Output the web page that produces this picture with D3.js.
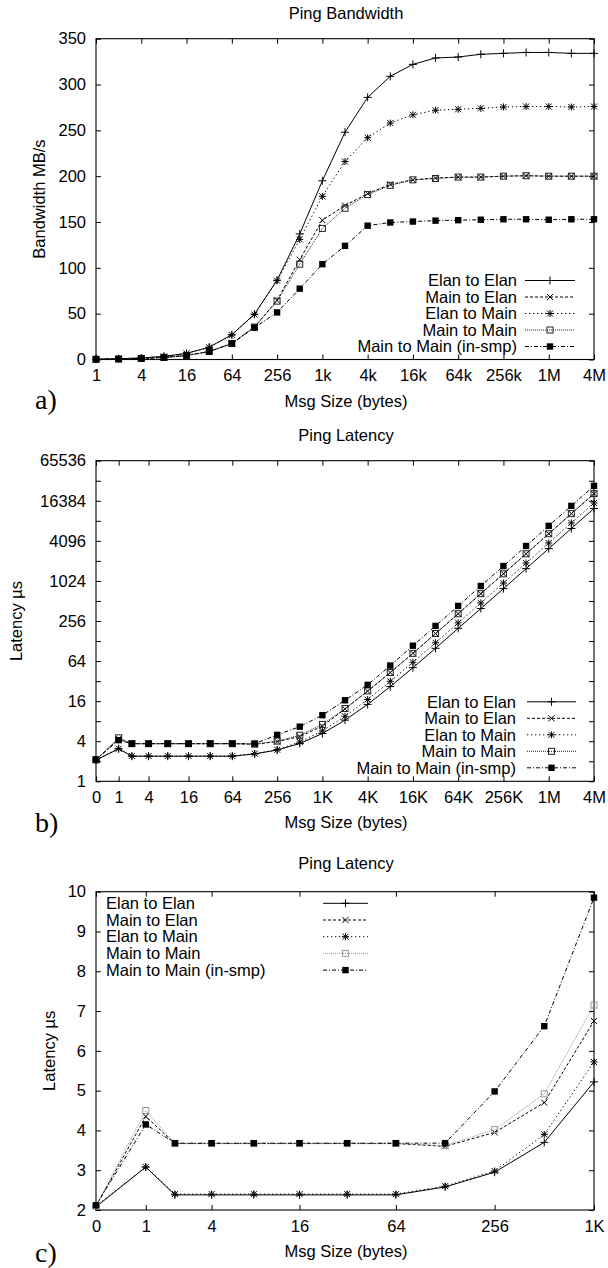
<html>
<head>
<script src="https://d3js.org/d3.v7.min.js"></script>
<style>
body { margin: 0; background: #fff; }
text { font-family: "Liberation Sans", Arial, sans-serif; font-size: 16.5px; fill: #000; }
.letter { font-family: "Liberation Serif", "Times New Roman", serif; font-size: 28px; }
</style>
</head>
<body>
<svg id="chart" width="608" height="1268"></svg>
<script>
// message sizes in bytes
const sizesBW = [1, 2, 4, 8, 16, 32, 64, 128, 256, 512, 1024, 2048, 4096, 8192, 16384, 32768,
  65536, 131072, 262144, 524288, 1048576, 2097152, 4194304];
const sizesLat = [0, 1, 2, 4, 8, 16, 32, 64, 128, 256, 512, 1024, 2048, 4096, 8192, 16384, 32768,
  65536, 131072, 262144, 524288, 1048576, 2097152, 4194304];
const sizesSmall = [0, 1, 2, 4, 8, 16, 32, 64, 128, 256, 512, 1024];

const seriesNames = ["Elan to Elan", "Main to Elan", "Elan to Main", "Main to Main", "Main to Main (in-smp)"];

// bandwidth MB/s (panel a)
const elanElanBW = [0.3, 0.8, 1.7, 3.4, 6.7, 13.4, 27, 49.5, 86.5, 137, 195, 248, 286, 309, 322, 329, 330, 333, 334, 335, 335, 334, 334];
const mainElanBW = [0.23, 0.55, 1.1, 2.2, 4.4, 8.7, 17.4, 35.5, 64.5, 109, 152, 168, 181, 191, 196, 198, 199, 199, 200, 200.5, 200, 200, 200];
const elanMainBW = [0.3, 0.8, 1.7, 3.3, 6.7, 13.3, 26.7, 49, 86, 131, 178, 216, 242, 258, 267, 272, 273, 274, 275.5, 276, 276, 275.5, 276];
const mainMainBW = [0.22, 0.55, 1.1, 2.2, 4.4, 8.7, 17.4, 35.4, 63.7, 104, 143, 165, 180, 190, 196, 197.5, 199, 199, 200, 200.5, 200, 200, 200];
const smpBW      = [0.24, 0.54, 1.09, 2.2, 4.35, 8.7, 17.4, 34.8, 51.4, 77.3, 104, 124, 146, 149.5, 150.5, 151.5, 152, 152.5, 153, 153, 152.5, 153, 153];

// latency us (panels b and c)
const elanElanLat = [2.08, 3.08, 2.38, 2.38, 2.38, 2.38, 2.38, 2.38, 2.58, 2.95, 3.7, 5.22, 8.3, 14.3, 26.5, 50.9, 99.6, 198.6, 394, 785, 1565, 3130, 6280, 12560];
const mainElanLat = [2.1, 4.35, 3.67, 3.67, 3.67, 3.67, 3.67, 3.67, 3.6, 3.95, 4.7, 6.75, 12.2, 22.6, 42.9, 83.6, 165.5, 329, 659, 1311, 2615, 5243, 10490, 20970];
const elanMainLat = [2.1, 3.08, 2.4, 2.4, 2.4, 2.4, 2.4, 2.4, 2.6, 2.98, 3.9, 5.72, 9.48, 16.9, 31.8, 61.4, 120.5, 240, 478, 951, 1900, 3800, 7610, 15200];
const mainMainLat = [2.1, 4.5, 3.67, 3.67, 3.67, 3.67, 3.67, 3.67, 3.62, 4.02, 4.92, 7.15, 12.4, 22.8, 43.1, 83.6, 166, 329, 659, 1311, 2615, 5243, 10490, 20970];
const smpLat      = [2.12, 4.15, 3.68, 3.68, 3.68, 3.68, 3.68, 3.68, 3.68, 4.98, 6.62, 9.85, 16.5, 28.1, 54.8, 108.9, 216, 431, 859, 1713, 3427, 6876, 13710, 27410];

// tick labels
const ticksA = [1, 4, 16, 64, 256, 1024, 4096, 16384, 65536, 262144, 1048576, 4194304];
const tickLabelsA = ["1", "4", "16", "64", "256", "1k", "4k", "16k", "64k", "256k", "1M", "4M"];
const yTicksA = [0, 50, 100, 150, 200, 250, 300, 350];
const ticksB = [0, 1, 4, 16, 64, 256, 1024, 4096, 16384, 65536, 262144, 1048576, 4194304];
const tickLabelsB = ["0", "1", "4", "16", "64", "256", "1K", "4K", "16K", "64K", "256K", "1M", "4M"];
const yTicksB = [1, 2, 4, 8, 16, 32, 64, 128, 256, 512, 1024, 2048, 4096, 8192, 16384, 32768, 65536];
const ticksC = [0, 1, 4, 16, 64, 256, 1024];
const tickLabelsC = ["0", "1", "4", "16", "64", "256", "1K"];
const yTicksC = [2, 3, 4, 5, 6, 7, 8, 9, 10];

// line style per series
const styles = [
  {dash: null, marker: "plus"},
  {dash: "3,2", marker: "cross"},
  {dash: "1.3,2.7", marker: "star"},
  {dash: "1,1", marker: "box"},
  {dash: "4,2,1,2", marker: "fbox"}
];

const svg = d3.select("#chart");
const left = 96, right = 594;

function drawMarker(g, type, x, y, color) {
  if (type == "plus") {
    g.append("path").attr("d", `M${x-4},${y}H${x+4}M${x},${y-4}V${y+4}`).attr("stroke", color);
  } else if (type == "cross") {
    g.append("path").attr("d", `M${x-3},${y-3}L${x+3},${y+3}M${x-3},${y+3}L${x+3},${y-3}`).attr("stroke", color);
  } else if (type == "star") {
    g.append("path").attr("d", `M${x-3.5},${y}H${x+3.5}M${x},${y-3.5}V${y+3.5}M${x-3},${y-3}L${x+3},${y+3}M${x-3},${y+3}L${x+3},${y-3}`).attr("stroke", color);
  } else if (type == "box") {
    g.append("rect").attr("x", x-3).attr("y", y-3).attr("width", 6).attr("height", 6)
      .attr("fill", "none").attr("stroke", color);
  } else {
    g.append("rect").attr("x", x-3.2).attr("y", y-3.2).attr("width", 6.4).attr("height", 6.4).attr("fill", color);
  }
}

function panel(p) {
  const g = svg.append("g");
  const xpos = d => p.x(d + p.xShift);
  const ypos = d => p.y(d);
  const colors = p.colors;

  // axes, ticks pointing inward and mirrored
  const xt = p.xTicks.map(d => d + p.xShift);
  g.append("g").attr("transform", `translate(0,${p.bottom})`)
    .call(d3.axisBottom(p.x).tickValues(xt).tickSizeInner(-5).tickSizeOuter(0).tickPadding(10)
      .tickFormat((d, i) => p.xLabels[i]));
  g.append("g").attr("transform", `translate(0,${p.top})`)
    .call(d3.axisTop(p.x).tickValues(xt).tickSizeInner(-5).tickSizeOuter(0).tickFormat(""));
  g.append("g").attr("transform", `translate(${left},0)`)
    .call(d3.axisLeft(p.y).tickValues(p.yTicks).tickSizeInner(-5).tickSizeOuter(0).tickPadding(10)
      .tickFormat(p.yFormat));
  g.append("g").attr("transform", `translate(${right},0)`)
    .call(d3.axisRight(p.y).tickValues(p.yTicks).tickSizeInner(-5).tickSizeOuter(0).tickFormat(""));
  g.selectAll(".domain").remove();
  g.selectAll(".tick line").attr("stroke", "#000");
  g.selectAll(".tick text").attr("font-size", null).attr("font-family", null);

  g.append("rect").attr("x", left).attr("y", p.top).attr("width", right - left).attr("height", p.bottom - p.top)
    .attr("fill", "none").attr("stroke", "#000").attr("stroke-width", 1.1);

  // series
  p.data.forEach((vals, i) => {
    const s = styles[i];
    const pts = p.sizes.map((d, j) => [d, vals[j]]);
    g.append("path").datum(pts)
      .attr("d", d3.line().x(d => xpos(d[0])).y(d => ypos(d[1])))
      .attr("fill", "none").attr("stroke", colors[i]).attr("stroke-width", 1)
      .attr("stroke-dasharray", s.dash);
    pts.forEach(d => drawMarker(g, s.marker, xpos(d[0]), ypos(d[1]), colors[i]));
  });

  // legend
  seriesNames.forEach((name, i) => {
    const s = styles[i];
    const ly = p.legY + i * p.legStep;
    g.append("text").attr("x", p.legTextX).attr("y", ly).attr("dy", "0.35em")
      .attr("text-anchor", p.legAnchor).text(name);
    g.append("line").attr("x1", p.legX1).attr("x2", p.legX2).attr("y1", ly).attr("y2", ly)
      .attr("stroke", colors[i]).attr("stroke-dasharray", s.dash);
    drawMarker(g, s.marker, (p.legX1 + p.legX2) / 2, ly, colors[i]);
  });

  // labels
  g.append("text").attr("x", 346).attr("y", p.titleY).attr("text-anchor", "middle").text(p.title);
  g.append("text").attr("x", 346).attr("y", p.bottom + 47).attr("text-anchor", "middle").text("Msg Size (bytes)");
  g.append("text").attr("transform", `translate(${p.yLabelX},${(p.top + p.bottom) / 2}) rotate(-90)`)
    .attr("dy", "0.35em").attr("text-anchor", "middle").text(p.yLabel);
  g.append("text").attr("class", "letter").attr("x", 35).attr("y", p.letterY).text(p.letter);
}

const darkColors = ["#000", "#000", "#000", "#222", "#000"];
const greyColors = ["#000", "#000", "#000", "#999", "#000"];

// a) bandwidth
const topA = 38.7, botA = 359.5;
panel({
  top: topA, bottom: botA, xShift: 0, colors: darkColors,
  x: d3.scaleLog().base(2).domain([1, 4194304]).range([left, right]),
  y: d3.scaleLinear().domain([0, 350]).range([botA, topA]),
  xTicks: ticksA, xLabels: tickLabelsA, yTicks: yTicksA, yFormat: d => d,
  sizes: sizesBW, data: [elanElanBW, mainElanBW, elanMainBW, mainMainBW, smpBW],
  legY: botA - 13 - 4 * 16.5, legStep: 16.5, legTextX: 517, legAnchor: "end", legX1: 525, legX2: 575,
  title: "Ping Bandwidth", titleY: 19, yLabel: "Bandwidth MB/s", yLabelX: 39, letter: "a)", letterY: 409
});

// b) latency, log scale
const topB = 460.7, botB = 781.3;
panel({
  top: topB, bottom: botB, xShift: 1, colors: darkColors,
  x: d3.scaleLog().base(2).domain([1, 4194305]).range([left, right]),
  y: d3.scaleLog().base(2).domain([1, 65536]).range([botB, topB]),
  xTicks: ticksB, xLabels: tickLabelsB, yTicks: yTicksB,
  yFormat: (d, i) => (i % 2 == 0 ? d : ""),
  sizes: sizesLat, data: [elanElanLat, mainElanLat, elanMainLat, mainMainLat, smpLat],
  legY: botB - 13.5 - 4 * 16.5, legStep: 16.5, legTextX: 516, legAnchor: "end", legX1: 527, legX2: 576,
  title: "Ping Latency", titleY: 441, yLabel: "Latency \u00b5s", yLabelX: 16, letter: "b)", letterY: 832
});

// c) latency, small messages
const topC = 891.7, botC = 1210;
const n = sizesSmall.length;
panel({
  top: topC, bottom: botC, xShift: 1, colors: greyColors,
  x: d3.scaleLog().base(2).domain([1, 1025]).range([left, right]),
  y: d3.scaleLinear().domain([2, 10]).range([botC, topC]),
  xTicks: ticksC, xLabels: tickLabelsC, yTicks: yTicksC, yFormat: d => d,
  sizes: sizesSmall,
  data: [elanElanLat, mainElanLat, elanMainLat, mainMainLat, smpLat].map(a => a.slice(0, n)),
  legY: topC + 11.6, legStep: 16.7, legTextX: 106, legAnchor: "start", legX1: 323, legX2: 368,
  title: "Ping Latency", titleY: 869, yLabel: "Latency \u00b5s", yLabelX: 49, letter: "c)", letterY: 1262
});
</script>
</body>
</html>
